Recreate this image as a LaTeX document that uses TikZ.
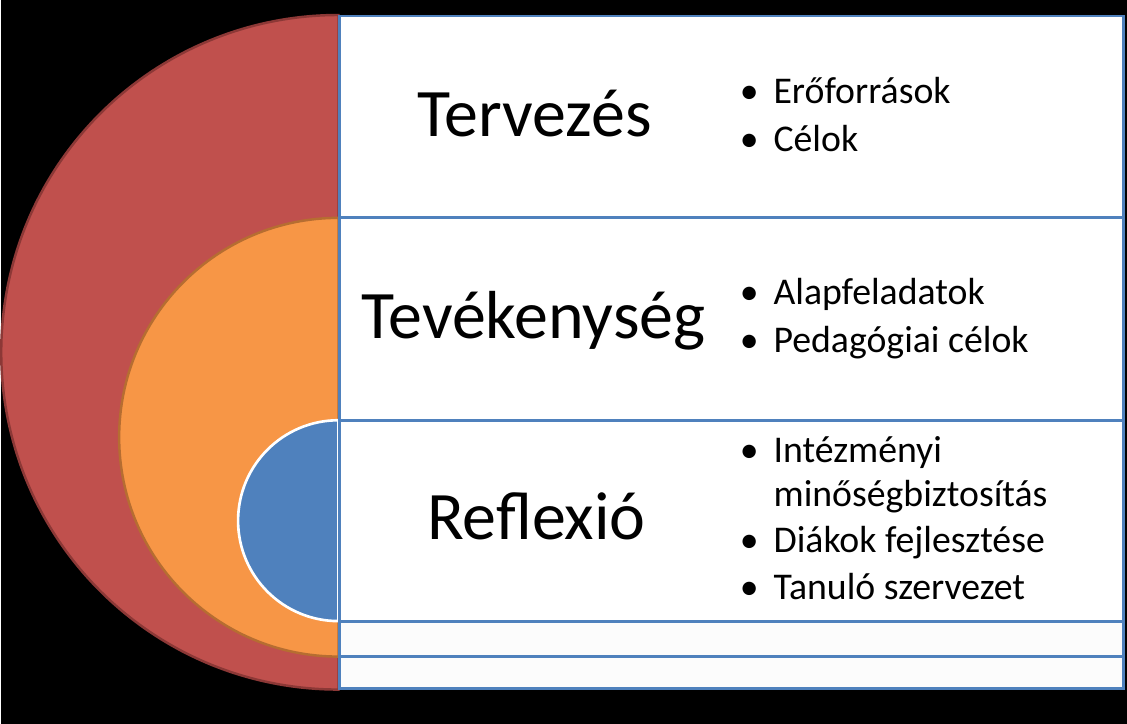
\documentclass[tikz,border=0pt]{standalone}
\usepackage{fontspec}
\setmainfont{Carlito}
\usetikzlibrary{positioning}
\definecolor{ringred}{HTML}{C0504D}
\definecolor{ringredline}{HTML}{8C3836}
\definecolor{ringorange}{HTML}{F79646}
\definecolor{ringorangeline}{HTML}{B66D31}
\definecolor{ringblue}{HTML}{4F81BD}
\definecolor{rowline}{HTML}{4F81BD}
\newcommand{\bul}{\llap{\textbullet\hspace{8.5pt}}}

\begin{document}
\begin{tikzpicture}[x=0.02cm, y=-0.02cm,
            row/.style={draw=rowline, line width=1.7pt, fill=white},
            emptyrow/.style={draw=rowline, line width=1.7pt, fill=black!1},
            title/.style={anchor=base, inner sep=0pt, font=\fontsize{38.7}{42}\selectfont},
            item/.style={anchor=base west, inner sep=0pt, font=\fontsize{21.5}{25}\selectfont}]

            % background
            \fill[black] (0,0) rectangle (1127,724);

            % nested half rings
            \filldraw[fill=ringred, draw=ringredline, line width=1.4pt] (338,15) arc[start angle=270, end angle=90, radius=337.5] -- cycle;
            \filldraw[fill=ringorange, draw=ringorangeline, line width=1.4pt] (338,218) arc[start angle=270, end angle=90, radius=219.5] -- cycle;
            \filldraw[fill=ringblue, draw=white, line width=1.5pt] (338,420.5) arc[start angle=270, end angle=90, radius=100.5] -- cycle;

            % rows
            \draw[row] (339,16) rectangle (1123,218);
            \draw[row] (339,218) rectangle (1123,421);
            \draw[row] (339,421) rectangle (1123,622);
            \draw[emptyrow] (339,622) rectangle (1123,657);
            \draw[emptyrow] (339,657) rectangle (1123,689);

            % titles
            \node[title] (plan) at (534,137) {Tervezés};
            \node[title] (act) at (533,339) {Tevékenység};
            \node[title] (refl) at (536,540) {Reflexió};

            % bullet lists
            \node[item] (res) at (773,104) {\bul Erőforrások};
            \node[item] (goals) at (773,152) {\bul Célok};
            \node[item] (basic) at (773,305) {\bul Alapfeladatok};
            \node[item] (pedgoals) at (773,353) {\bul Pedagógiai célok};
            \node[item] (inst) at (773,463) {\bul Intézményi};
            \node[item] (quality) at (773,507) {minőségbiztosítás};
            \node[item] (students) at (773,553) {\bul Diákok fejlesztése};
            \node[item] (learn) at (773,600) {\bul Tanuló szervezet};
        \end{tikzpicture}
\end{document}
